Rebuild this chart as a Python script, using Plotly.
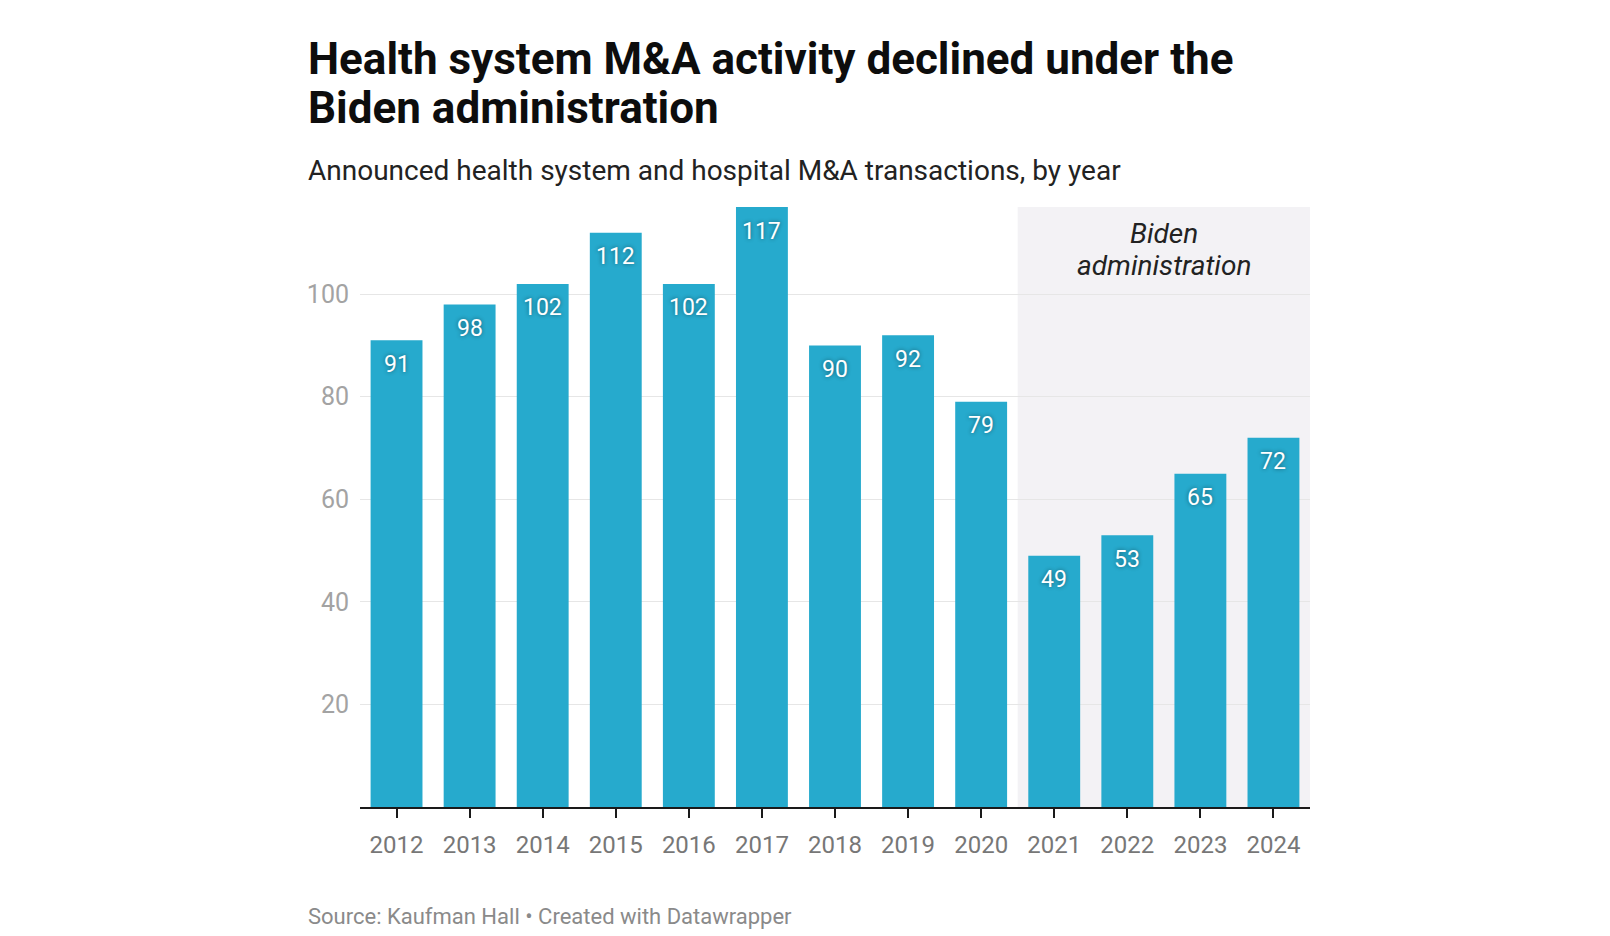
import plotly.graph_objects as go

# data
years = [2012, 2013, 2014, 2015, 2016, 2017, 2018,
         2019, 2020, 2021, 2022, 2023, 2024]
deals = [91, 98, 102, 112, 102, 117, 90, 92, 79, 49, 53, 65, 72]
y_ticks = [20, 40, 60, 80, 100]
biden_years = (2021, 2024)

title_lines = ['Health system M&A activity declined under the', 'Biden administration']
subtitle = 'Announced health system and hospital M&A transactions, by year'
source = 'Source: Kaufman Hall \u2022 Created with Datawrapper'
band_lines = ['Biden', 'administration']

BAR = '#26aacd'
FONT = 'Roboto'

fig = go.Figure(go.Bar(
    x=years,
    y=deals,
    width=0.71,
    marker=dict(color=BAR, line=dict(width=0)),
    hoverinfo='x+y',
))

# value labels just inside the top of each bar
annotations = []
for yr, v in zip(years, deals):
    annotations.append(dict(
        x=yr, y=v, xref='x', yref='y', text=str(v), showarrow=False,
        yanchor='middle', yshift=-24,
        font=dict(family=FONT, size=23, color='white',
                  shadow='0px 0px 4px rgba(0,0,0,0.45)'),
    ))

band_x0 = biden_years[0] - 0.5
band_x1 = biden_years[1] + 0.5

# title block, placed relative to the plot area
left = -0.057
annotations += [
    dict(text='<b>' + title_lines[0] + '</b>', x=left, y=1.2466, xref='paper', yref='paper',
         xanchor='left', yanchor='middle', showarrow=False,
         font=dict(family=FONT, size=44, color='#0d0d0d')),
    dict(text='<b>' + title_lines[1] + '</b>', x=left, y=1.165, xref='paper', yref='paper',
         xanchor='left', yanchor='middle', showarrow=False,
         font=dict(family=FONT, size=44, color='#0d0d0d')),
    dict(text=subtitle, x=left, y=1.0608, xref='paper', yref='paper',
         xanchor='left', yanchor='middle', showarrow=False,
         font=dict(family=FONT, size=28, color='#222222')),
    dict(text=source, x=left, y=-0.183, xref='paper', yref='paper',
         xanchor='left', yanchor='middle', showarrow=False,
         font=dict(family=FONT, size=22, color='#8a8a8a')),
    dict(text='<i>' + band_lines[0] + '</i>', x=(band_x0 + band_x1) / 2, y=0.9566,
         xref='x', yref='paper', xanchor='center', yanchor='middle', showarrow=False,
         font=dict(family=FONT, size=28, color='#222222')),
    dict(text='<i>' + band_lines[1] + '</i>', x=(band_x0 + band_x1) / 2, y=0.9025,
         xref='x', yref='paper', xanchor='center', yanchor='middle', showarrow=False,
         font=dict(family=FONT, size=28, color='#222222')),
]

fig.update_layout(
    width=1610, height=936,
    margin=dict(l=352, r=308, t=199, b=137),
    paper_bgcolor='white', plot_bgcolor='white',
    font=dict(family=FONT),
    showlegend=False,
    annotations=annotations,
    # shaded band for the Biden years
    shapes=[dict(type='rect', xref='x', yref='paper', x0=band_x0, x1=band_x1, y0=0, y1=1,
                 fillcolor='#f3f2f5', line=dict(width=0), layer='below')],
)

fig.update_xaxes(
    range=[years[0] - 0.5, years[-1] + 0.5],
    tickmode='array', tickvals=years,
    showline=True, linecolor='#1a1a1a', linewidth=2,
    ticks='outside', ticklen=9, tickwidth=2, tickcolor='#1a1a1a',
    ticklabelstandoff=6,
    tickfont=dict(family=FONT, size=24, color='#777777'),
    showgrid=False, zeroline=False,
)
fig.update_yaxes(
    range=[0, 117],
    tickvals=y_ticks,
    showgrid=True, gridcolor='#e6e6e6', gridwidth=1,
    showline=False, zeroline=False, ticks='',
    ticklabelstandoff=10,
    tickfont=dict(family=FONT, size=25, color='#a3a3a3'),
)

fig.write_html('out.html')
